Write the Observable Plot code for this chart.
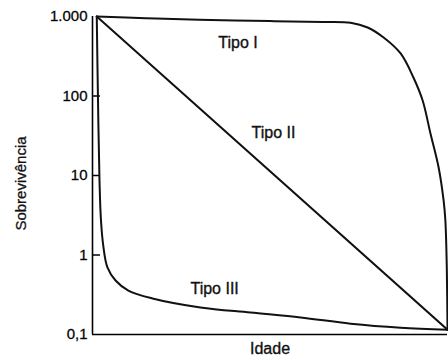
<!DOCTYPE html>
<html>
<head>
<meta charset="utf-8">
<script src="https://cdn.jsdelivr.net/npm/d3@7"></script>
<script src="https://cdn.jsdelivr.net/npm/@observablehq/plot@0.6"></script>
<style>
  html, body { margin: 0; padding: 0; background: #fff; }
  #chart svg { display: block; }
  #chart g[aria-label="y-axis tick label"] { stroke: #111; stroke-width: 0.3px; }
</style>
</head>
<body>
<div id="chart"></div>
<script>
// Survivorship curves: age (relative, 0–100) vs. survivors on a log scale.
const typeIAge      = [1.2, 15, 30, 50, 65, 72.7, 77.5, 82, 86.8, 90.4, 93, 95.2, 97.5, 98.9, 99.4, 99.8, 100];
const typeISurvival = [1000, 950, 910, 875, 855, 835, 728, 545, 343, 171, 87.8, 33.7, 12.6, 4.85, 2.72, 0.70, 0.115];

const typeIIAge      = [1.2, 100];
const typeIISurvival = [1000, 0.115];

const typeIIIAge      = [1.2, 1.55, 1.97, 2.39, 3.1, 4.2, 6.5, 10.1, 16.9, 30.4, 44.5, 58.6, 72.7, 86.8, 100];
const typeIIISurvival = [1000, 87.8, 8.65, 2.72, 1.24, 0.70, 0.478, 0.357, 0.284, 0.219, 0.189, 0.164, 0.137, 0.122, 0.115];

const curveNames  = ["Tipo I", "Tipo II", "Tipo III"];
const labelAge    = [41, 51, 34.4];
const labelSurv   = [470, 34.8, 0.37];

const yTicks      = [0.1, 1, 10, 100, 1000];
const yTickLabels = ["0,1", "1", "10", "100", "1.000"];
const innerTicks  = [1, 10, 100];

const toRows = (xs, ys) => xs.map((x, i) => ({age: x, surv: ys[i]}));
const curves = [
  toRows(typeIAge, typeISurvival),
  toRows(typeIIAge, typeIISurvival),
  toRows(typeIIIAge, typeIIISurvival)
];
const labels = curveNames.map((name, i) => ({name, age: labelAge[i], surv: labelSurv[i]}));

const font = "'Liberation Sans', Arial, Helvetica, sans-serif";
const ink = "#111";

const chart = Plot.plot({
  width: 448,
  height: 360,
  marginLeft: 92,
  marginRight: 1,
  marginTop: 16,
  marginBottom: 26,
  style: {fontFamily: font, fontSize: "15px", color: "#000", background: "#fff"},
  x: {domain: [0, 100], axis: null},
  y: {type: "log", domain: [0.1, 1000], axis: null},
  marks: [
    Plot.axisY({
      ticks: yTicks,
      tickFormat: (d) => yTickLabels[yTicks.indexOf(d)],
      tickSize: 0,
      tickPadding: 5,
      fontSize: 15,
      label: null
    }),
    // short tick marks pointing into the plot area
    Plot.tickY(innerTicks, {stroke: "#000", strokeWidth: 1.5, insetRight: 347}),
    Plot.ruleX([0], {stroke: "#000", strokeWidth: 1.6}),
    Plot.ruleY([0.1], {stroke: "#000", strokeWidth: 1.6}),
    ...curves.map((rows) =>
      Plot.line(rows, {x: "age", y: "surv", stroke: ink, strokeWidth: 2, curve: "catmull-rom"})
    ),
    Plot.text(labels, {x: "age", y: "surv", text: "name", fontSize: 16, fill: ink, stroke: ink, strokeWidth: 0.35}),
    Plot.text(["Idade"], {frameAnchor: "bottom", dy: 19, fontSize: 16, fill: ink, stroke: ink, strokeWidth: 0.35}),
    Plot.text(["Sobrevivência"], {frameAnchor: "left", textAnchor: "middle", dx: -71, dy: 8, rotate: -90, fontSize: 15, fill: ink, stroke: ink, strokeWidth: 0.3})
  ]
});

document.getElementById("chart").appendChild(chart);
</script>
</body>
</html>
